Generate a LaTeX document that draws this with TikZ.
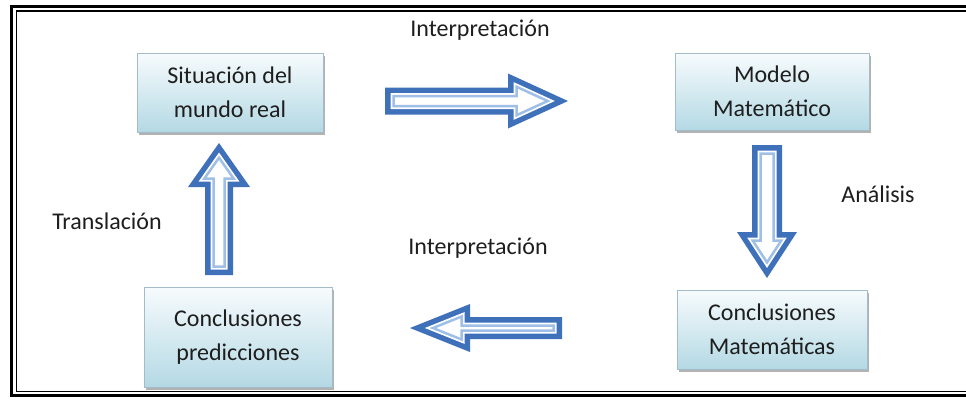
\documentclass[tikz,border=0pt]{standalone}
\usepackage{fontspec}
\setmainfont{Carlito}
\usetikzlibrary{shadows}

\definecolor{arrowblue}{HTML}{3F70BA}
\definecolor{arrowlight}{HTML}{9FBFE6}
\definecolor{boxtop}{HTML}{F7FBFD}
\definecolor{boxbottom}{HTML}{B4D9E4}
\definecolor{boxline}{HTML}{A3BCC8}
\definecolor{inktext}{HTML}{1E1E1E}

% One outline of a block arrow pointing along local +x, tail at the origin.
% #1 length, #2 half shaft width, #3 half head width, #4 head length,
% #5 inset from the outer outline, #6 path options
\newcommand{\arrowlayer}[6]{%
  \pgfmathsetmacro{\arK}{sqrt((#3)*(#3)+(#4)*(#4))/(#3)}%
  \pgfmathsetmacro{\arTip}{#1-(#5)*\arK}%
  \pgfmathsetmacro{\arBase}{#1-(#4)+(#5)}%
  \pgfmathsetmacro{\arHead}{(\arTip-\arBase)*(#3)/(#4)}%
  \pgfmathsetmacro{\arShaft}{#2-(#5)}%
  \path[#6] (#5,-\arShaft) -- (\arBase,-\arShaft) -- (\arBase,-\arHead)
    -- (\arTip,0) -- (\arBase,\arHead) -- (\arBase,\arShaft)
    -- (#5,\arShaft) -- cycle;
}

% Hollow double-lined block arrow.
% #1 scope options (shift/rotate), #2 length, #3 half shaft, #4 half head, #5 head length
\newcommand{\blockarrow}[5]{%
  \begin{scope}[#1]
    \arrowlayer{#2}{#3}{#4}{#5}{0}{fill=arrowblue}
    \arrowlayer{#2}{#3}{#4}{#5}{5.5}{fill=white}
    \arrowlayer{#2}{#3}{#4}{#5}{8.5}{draw=arrowlight, line width=2.5pt, line join=miter}
  \end{scope}%
}

\tikzset{
  stage/.style={draw=boxline, line width=0.8pt,
    top color=boxtop, bottom color=boxbottom,
    align=center, inner sep=0pt,
    font=\fontsize{24}{34}\selectfont, text=inktext,
    drop shadow={shadow xshift=1.5pt, shadow yshift=-3pt,
      fill=black!50, opacity=0.6}},
  caption/.style={font=\fontsize{24}{28}\selectfont, text=inktext},
}

\begin{document}
\begin{tikzpicture}[x=1pt, y=-1pt]
  \clip (0,0) rectangle (966,400);
  \fill[white] (0,0) rectangle (966,400);

  % double frame, open on the right where the page ends
  \draw[line width=3pt] (11.5,6.5) rectangle (990,395.5);
  \draw[line width=1.2pt] (16.5,11) rectangle (985,391.5);

  % stages of the modelling cycle
  \node[stage, minimum width=186pt, minimum height=79pt] (real) at (230,92.5)
    {Situación del\\mundo real};
  \node[stage, minimum width=194pt, minimum height=77pt] (model) at (772,91.5)
    {Modelo\\Matemático};
  \node[stage, minimum width=190pt, minimum height=79pt] (mathconc) at (772,329.5)
    {Conclusiones\\Matemáticas};
  \node[stage, minimum width=188pt, minimum height=100pt] (predict) at (238,337)
    {Conclusiones\\predicciones};

  % block arrows between the stages
  \blockarrow{shift={(385,101)}}{183}{13.5}{27.5}{60}
  \blockarrow{shift={(767,145)}, rotate=-90}{133}{15}{30}{46}
  \blockarrow{shift={(562,328)}, rotate=180}{152}{11}{24}{60}
  \blockarrow{shift={(219,275)}, rotate=90}{132}{14}{31}{44}

  % arrow captions
  \node[caption] (interpTop) at (480,30) {Interpretación};
  \node[caption] (analysis) at (878,194) {Análisis};
  \node[caption] (interpBottom) at (478,248) {Interpretación};
  \node[caption] (transl) at (107,221) {Translación};
\end{tikzpicture}
\end{document}
